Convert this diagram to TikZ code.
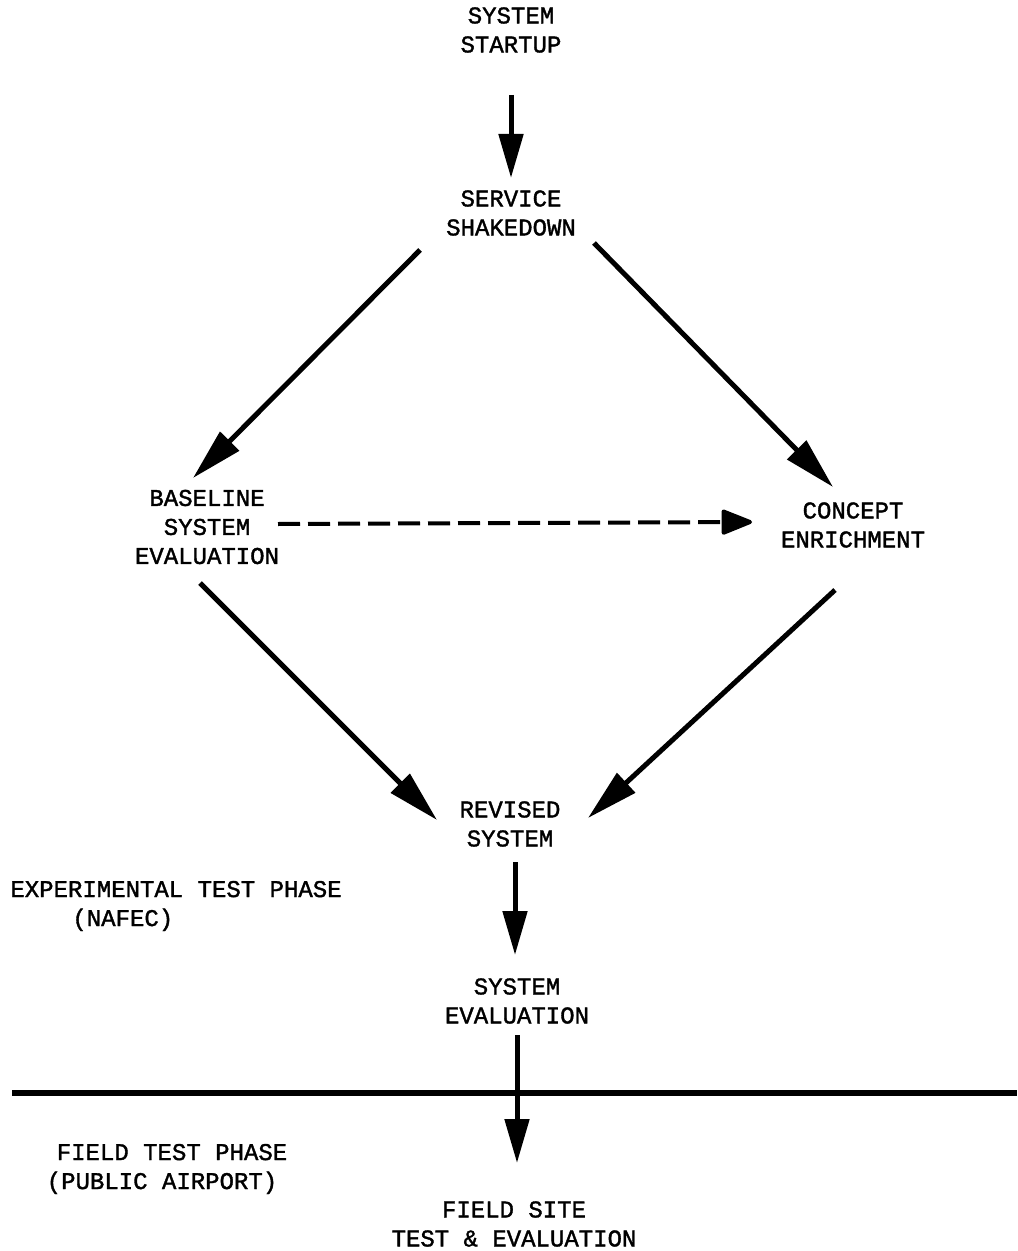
\documentclass[tikz,border=0pt]{standalone}
\usepackage{fontspec}
\setmainfont{Liberation Mono}[FakeBold=1.5,AutoFakeBold=1.5]
\usetikzlibrary{arrows.meta,calc}
\tikzset{
  lbl/.style={align=center, inner sep=0pt, font=\fontsize{12}{14.5}\selectfont\bfseries},
  arr/.style={line width=2.5pt, -{Triangle[length=22pt,width=12pt]}},
  darr/.style={line width=2.5pt, -{Triangle[length=26pt,width=13pt]}},
  dasharr/.style={line width=2pt, dash pattern=on 11pt off 4pt, -{Triangle[length=17pt,width=13pt,round]}}
}
\begin{document}
\begin{tikzpicture}[x=0.5pt,y=-0.5pt]
\useasboundingbox (0,0) rectangle (1017,1251);
\node[lbl] (start) at (511,30) {SYSTEM\\STARTUP};
\node[lbl] (shake) at (511,213) {SERVICE\\SHAKEDOWN};
\node[lbl] (base) at (207,527) {BASELINE\\SYSTEM\\EVALUATION};
\node[lbl] (conc) at (853,525) {CONCEPT\\ENRICHMENT};
\node[lbl] (rev) at (510,824) {REVISED\\SYSTEM};
\node[lbl] (seval) at (517,1001) {SYSTEM\\EVALUATION};
\node[lbl] (field) at (514,1224) {FIELD SITE\\TEST \& EVALUATION};
\node[lbl, align=left, anchor=west] (exp) at (10,906) {EXPERIMENTAL TEST PHASE\\\hspace*{31pt}(NAFEC)};
\node[lbl] (ftp) at (162,1169) {\hspace*{10pt}FIELD TEST PHASE\\(PUBLIC AIRPORT)};

\draw[arr] ($(start)+(0,65)$) -- ($(shake)+(0,-35)$);
\draw[darr] ($(shake)+(-91,37)$) -- ($(base)+(-14,-49)$);
\draw[darr] ($(shake)+(83,30)$) -- ($(conc)+(-20,-38)$);
\draw[dasharr] ($(base)+(71,-3)$) -- ($(conc)+(-101,-3)$);
\draw[darr] ($(base)+(-7,56)$) -- ($(rev)+(-73,-4)$);
\draw[darr] ($(conc)+(-18,65)$) -- ($(rev)+(78,-6)$);
\draw[arr] ($(rev)+(5,38)$) -- ($(seval)+(-2,-46)$);
\draw[arr] ($(seval)+(0,34)$) -- ($(field)+(3,-61)$);
\draw[line width=3pt] (12,1093) -- (1017,1093);
\end{tikzpicture}
\end{document}
